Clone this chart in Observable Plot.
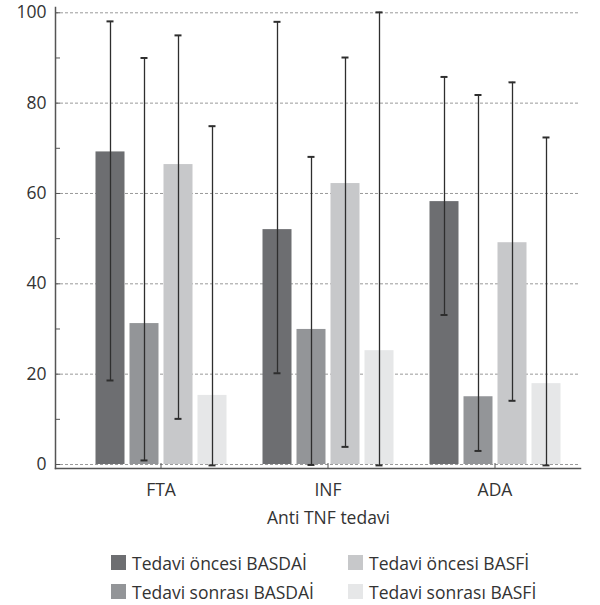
<!DOCTYPE html>
<html><head><meta charset="utf-8">
<script src="https://cdn.jsdelivr.net/npm/d3@7"></script>
<script src="https://cdn.jsdelivr.net/npm/@observablehq/plot@0.6"></script>
<style>
body{margin:0;background:#fff;font-family:"Open Sans",sans-serif;color:#333}
#chart svg text{font-size:17.5px !important;font-family:"Open Sans",sans-serif}
#legend{display:grid;grid-template-rows:29px 29px;grid-template-columns:237px auto;grid-auto-flow:column;margin-left:111px;margin-top:8px;font-size:17.5px}
.item{display:flex;align-items:center;height:29px;white-space:nowrap}
.sw{width:15px;height:15px;margin-right:6px;flex:none}
</style></head><body><div id="chart"></div><div id="legend"></div>
<script>
const groups = ["FTA", "INF", "ADA"];
const series = ["Tedavi öncesi BASDAİ", "Tedavi sonrası BASDAİ", "Tedavi öncesi BASFİ", "Tedavi sonrası BASFİ"];
const colors = ["#6d6e71", "#939598", "#c7c8ca", "#e6e7e8"];
const xTitle = "Anti TNF tedavi";

// mean values per group, in series order
const meanFTA = [69.2, 31.2, 66.4, 15.3];
const meanINF = [52.0, 29.9, 62.2, 25.2];
const meanADA = [58.2, 15.0, 49.1, 17.9];
// error bar upper ends
const upperFTA = [98.1, 90.0, 95.0, 74.9];
const upperINF = [98.0, 68.1, 90.1, 100.1];
const upperADA = [85.8, 81.8, 84.6, 72.4];
// error bar lower ends
const lowerFTA = [18.6, 0.9, 10.1, -0.2];
const lowerINF = [20.2, -0.1, 3.9, -0.2];
const lowerADA = [33.1, 3.0, 14.1, -0.2];

const yLabelTicks = [0, 20, 40, 60, 80, 100];
const yMinorTicks = [0, 10, 20, 30, 40, 50, 60, 70, 80, 90, 100];

const meansBy = {FTA: meanFTA, INF: meanINF, ADA: meanADA};
const uppersBy = {FTA: upperFTA, INF: upperINF, ADA: upperADA};
const lowersBy = {FTA: lowerFTA, INF: lowerINF, ADA: lowerADA};

const rows = [];
groups.forEach(g => series.forEach((s, i) => rows.push({
  group: g, series: s, i, mean: meansBy[g][i], hi: uppersBy[g][i], lo: lowersBy[g][i]
})));

// layout within each group band
const band = 167, start = 18.5, step = 34, barW = 29, capW = 7;
const errColor = "#2e2e2e";
const marks = [
  Plot.gridY(yLabelTicks, {stroke: "#9a9a9a", strokeOpacity: 1, strokeDasharray: "3,2"})
];
series.forEach((s, i) => {
  const sub = rows.filter(d => d.i === i);
  const left = start + i * step;
  marks.push(Plot.barY(sub, {x: "group", y: "mean", fill: "series", insetLeft: left, insetRight: band - left - barW}));
});
series.forEach((s, i) => {
  const sub = rows.filter(d => d.i === i);
  const left = start + i * step;
  const off = left + barW / 2 - band / 2;
  marks.push(Plot.ruleX(sub, {x: "group", y1: "lo", y2: "hi", dx: off, stroke: errColor, strokeWidth: 1.3}));
  marks.push(Plot.tickY(sub, {x: "group", y: "hi", dx: off, insetLeft: band / 2 - capW / 2, insetRight: band / 2 - capW / 2, stroke: errColor, strokeWidth: 2}));
  marks.push(Plot.tickY(sub, {x: "group", y: "lo", dx: off, insetLeft: band / 2 - capW / 2, insetRight: band / 2 - capW / 2, stroke: errColor, strokeWidth: 2}));
});
marks.push(
  Plot.frame({anchor: "left", stroke: "#555", strokeWidth: 1.5}),
  Plot.frame({anchor: "bottom", stroke: "#555", strokeWidth: 1.5}),
  Plot.axisY({ticks: yMinorTicks, tickSize: 5, dx: 5, tickFormat: () => "", stroke: "#555", label: null}),
  Plot.axisY({ticks: yLabelTicks, tickSize: 0, tickPadding: 9, fontSize: 17.5, fill: "#333", label: null}),
  Plot.axisX({tickSize: 5, dy: -5, tickFormat: () => "", stroke: "#555", label: null}),
  Plot.axisX({tickSize: 0, tickPadding: 15, fontSize: 17.5, fill: "#333", label: null}),
  Plot.text([xTitle], {frameAnchor: "bottom", text: d => d, dx: 10.5, dy: 43.5, lineAnchor: "top", fontSize: 17.5, fill: "#333"})
);

const chart = Plot.plot({
  width: 600, height: 540,
  marginLeft: 55, marginRight: 20, marginTop: 7, marginBottom: 72,
  style: {fontFamily: "Open Sans, sans-serif", fontSize: "17.5px", color: "#333", background: "#fff"},
  x: {domain: groups, range: [76.5, 577.5], padding: 0},
  y: {domain: [0, 100], insetTop: 5.3, insetBottom: 4},
  color: {domain: series, range: colors},
  marks
});
document.getElementById("chart").appendChild(chart);

const legend = document.getElementById("legend");
series.forEach((s, i) => {
  const item = document.createElement("div");
  item.className = "item";
  const sw = document.createElement("span");
  sw.className = "sw";
  sw.style.background = colors[i];
  const t = document.createElement("span");
  t.textContent = s;
  item.appendChild(sw); item.appendChild(t);
  legend.appendChild(item);
});
</script></body></html>
